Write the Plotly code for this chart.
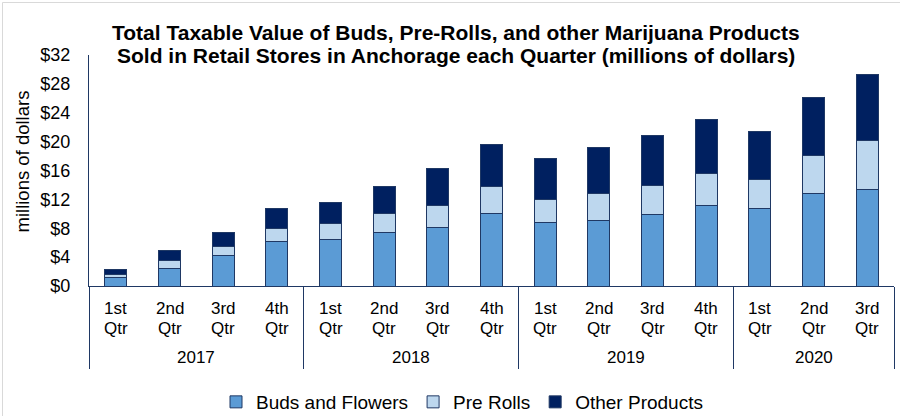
import plotly.graph_objects as go

years = ["2017", "2018", "2019", "2020"]
quarters_per_year = [4, 4, 4, 3]
quarter_top = ["1st", "2nd", "3rd", "4th"]
quarter_bottom = "Qtr"

buds = [1.2, 2.4, 4.2, 6.15, 6.5, 7.35, 8.1, 10.1, 8.75, 9.1, 9.95, 11.15, 10.7, 12.85, 13.4]
pre_rolls = [0.4, 1.15, 1.25, 1.85, 2.1, 2.65, 3.1, 3.65, 3.2, 3.7, 4.0, 4.4, 4.05, 5.2, 6.7]
other = [0.7, 1.3, 2.0, 2.7, 2.9, 3.75, 5.1, 5.85, 5.75, 6.45, 6.85, 7.45, 6.65, 8.05, 9.2]

y_ticks = list(range(0, 33, 4))
y_ticktext = ["$" + str(v) for v in y_ticks]

title_lines = ["Total Taxable Value of Buds, Pre-Rolls, and other Marijuana Products",
               "Sold in Retail Stores in Anchorage each Quarter (millions of dollars)"]

NAVY = "#1F3864"
FONT = "Liberation Sans, Arial, sans-serif"

# positions along the category axis
xpos = list(range(len(buds)))
q_labels = []
for n in quarters_per_year:
    q_labels += quarter_top[:n]
bounds = [-0.5]
for n in quarters_per_year:
    bounds.append(bounds[-1] + n)

fig = go.Figure()
for name, vals, col in [("Buds and Flowers", buds, "#5B9BD5"),
                        ("Pre Rolls", pre_rolls, "#BDD7EE"),
                        ("Other Products", other, "#002060")]:
    fig.add_trace(go.Bar(x=xpos, y=vals, name=name,
                         marker=dict(color=col, line=dict(color=NAVY, width=1))))

W, H = 900, 416
L, R, T, B = 89, 6, 55, 130
pw, ph = W - L - R, H - T - B

def px(x):
    return (x - L) / pw

def py(y):
    return (H - B - y) / ph

annotations = []
for i, q in enumerate(q_labels):
    annotations.append(dict(text=q, x=xpos[i], xref="x", y=py(308), yref="paper",
                            xanchor="center", yanchor="middle", showarrow=False,
                            font=dict(size=17)))
    annotations.append(dict(text=quarter_bottom, x=xpos[i], xref="x", y=py(328), yref="paper",
                            xanchor="center", yanchor="middle", showarrow=False,
                            font=dict(size=17)))
for k, yr in enumerate(years):
    annotations.append(dict(text=yr, x=(bounds[k] + bounds[k + 1]) / 2, xref="x",
                            y=py(357), yref="paper", xanchor="center", yanchor="middle",
                            showarrow=False, font=dict(size=17)))
for j, line in enumerate(title_lines):
    annotations.append(dict(text="<b>" + line + "</b>", x=px(456), xref="paper",
                            y=py(33 + 23 * j), yref="paper", xanchor="center", yanchor="middle",
                            showarrow=False, font=dict(size=21)))
annotations.append(dict(text="millions of dollars", textangle=-90, xref="paper", yref="paper",
                        x=px(21.5), y=py(162), xanchor="center", yanchor="middle",
                        showarrow=False, font=dict(size=18.5)))

fig.update_layout(
    width=W, height=H,
    margin=dict(l=L, r=R, t=T, b=B, autoexpand=False),
    barmode="stack", bargap=0.59,
    paper_bgcolor="white", plot_bgcolor="white",
    font=dict(family=FONT, size=17, color="#000000"),
    showlegend=True,
    legend=dict(orientation="h", xref="container", x=462 / W, xanchor="center",
                yref="container", y=1 - 402 / H, yanchor="middle",
                traceorder="normal", font=dict(size=19), bgcolor="rgba(0,0,0,0)"),
    xaxis=dict(range=[bounds[0], bounds[-1]], showline=True, linecolor=NAVY, linewidth=1,
               showgrid=False, zeroline=False, tickvals=bounds, ticktext=[""] * len(bounds),
               ticks="outside", ticklen=82, tickcolor=NAVY, tickwidth=1, automargin=False),
    yaxis=dict(range=[0, 32], tickvals=y_ticks, ticktext=y_ticktext, showgrid=False,
               showline=True, linecolor=NAVY, linewidth=1, ticks="", zeroline=False,
               tickfont=dict(size=18), ticklabelstandoff=14, automargin=False),
    annotations=annotations,
    shapes=[dict(type="rect", xref="paper", yref="paper", x0=px(2.5), x1=px(905),
                 y0=py(425), y1=py(2.5), line=dict(color="#D9D9D9", width=1), layer="below")],
)

fig.write_html("out.html", config={"displayModeBar": False},
               post_script="document.body.style.margin='0px';document.body.style.overflow='hidden';")
